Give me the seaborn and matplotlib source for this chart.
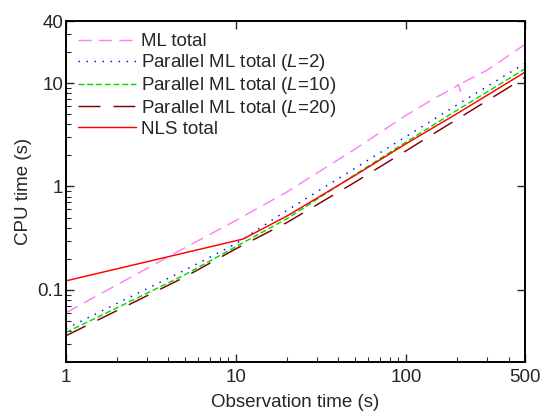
import numpy as np
import pandas as pd
import matplotlib
matplotlib.use('Agg')
import matplotlib.pyplot as plt
import seaborn as sns
from matplotlib.ticker import LogLocator, FixedLocator, NullFormatter, FixedFormatter

# values (seconds)
x_ml = [1, 2, 5, 10, 20, 50, 100, 150, 189, 203, 208, 217, 300, 400, 500]
ml_total = [0.060, 0.112, 0.255, 0.47, 0.89, 2.3, 4.9, 7.3, 8.9, 9.7, 8.4, 10.2, 13.4, 18.5, 23.8]

x_par = [1, 2, 5, 10, 20, 50, 100, 200, 500]
par_l2 = [0.042, 0.074, 0.155, 0.28, 0.59, 1.5, 3.05, 6.2, 15.6]
par_l10 = [0.0387, 0.067, 0.14, 0.262, 0.49, 1.3, 2.7, 5.5, 13.8]
par_l20 = [0.0359, 0.063, 0.133, 0.25, 0.45, 1.1, 2.22, 4.5, 11.4]

x_nls = [1, 11, 20, 50, 100, 200, 500]
nls_total = [0.122, 0.31, 0.52, 1.28, 2.6, 5.1, 12.8]

sns.set_style('ticks')
plt.rcParams['font.family'] = ['Liberation Sans', 'DejaVu Sans']
plt.rcParams['mathtext.fontset'] = 'custom'
plt.rcParams['mathtext.rm'] = 'Liberation Sans'
plt.rcParams['mathtext.it'] = 'Liberation Sans:italic'
plt.rcParams['font.size'] = 13.5

fig = plt.figure(figsize=(5.43, 4.12), dpi=100)
ax = fig.add_axes([0.1215, 0.1214, 0.967 - 0.1215, 0.949 - 0.1214])

series = [
    (x_ml, ml_total, 'ML total', '#FF80F8', (9, 5)),
    (x_par, par_l2, 'Parallel ML total ($L$=2)', '#0000FF', (1, 4.5)),
    (x_par, par_l10, 'Parallel ML total ($L$=10)', '#00E000', (4, 2)),
    (x_par, par_l20, 'Parallel ML total ($L$=20)', '#800000', (15, 9)),
    (x_nls, nls_total, 'NLS total', '#FF0000', None),
]
for xs, ys, name, col, dash in series:
    df = pd.DataFrame({'t': xs, 'cpu': ys})
    sns.lineplot(data=df, x='t', y='cpu', ax=ax, color=col, lw=1.05, label=name)
    if dash is not None:
        ax.lines[-1].set_dashes(dash)

ax.set_xscale('log')
ax.set_yscale('log')
ax.set_xlim(1, 500)
ax.set_ylim(0.02, 40)

ax.xaxis.set_major_locator(FixedLocator([1, 10, 100, 500]))
ax.xaxis.set_major_formatter(FixedFormatter(['1', '10', '100', '500']))
ax.xaxis.set_minor_locator(LogLocator(base=10, subs=np.arange(2, 10)))
ax.xaxis.set_minor_formatter(NullFormatter())
ax.yaxis.set_major_locator(FixedLocator([0.1, 1, 10, 40]))
ax.yaxis.set_major_formatter(FixedFormatter(['0.1', '1', '10', '40']))
ax.yaxis.set_minor_locator(LogLocator(base=10, subs=np.arange(2, 10)))
ax.yaxis.set_minor_formatter(NullFormatter())

ax.tick_params(which='major', direction='in', length=6, width=1.0, top=True, right=True, labelsize=13.5)
ax.tick_params(which='minor', direction='in', length=3.5, width=0.8, top=False, right=False)
ax.tick_params(axis='x', which='major', pad=5)
ax.tick_params(axis='y', which='major', pad=2)
for s in ax.spines.values():
    s.set_linewidth(1.4)
    s.set_color('black')

ax.set_xlabel('Observation time (s)', fontsize=13.5, labelpad=6)
ax.set_ylabel('CPU time (s)', fontsize=13.5, labelpad=4)

ax.legend(loc='upper left', frameon=False, handlelength=3.1, handletextpad=0.25,
          labelspacing=0.1, borderaxespad=0.4, borderpad=0.25, fontsize=13.5)

fig.savefig('out.png', dpi=100)
